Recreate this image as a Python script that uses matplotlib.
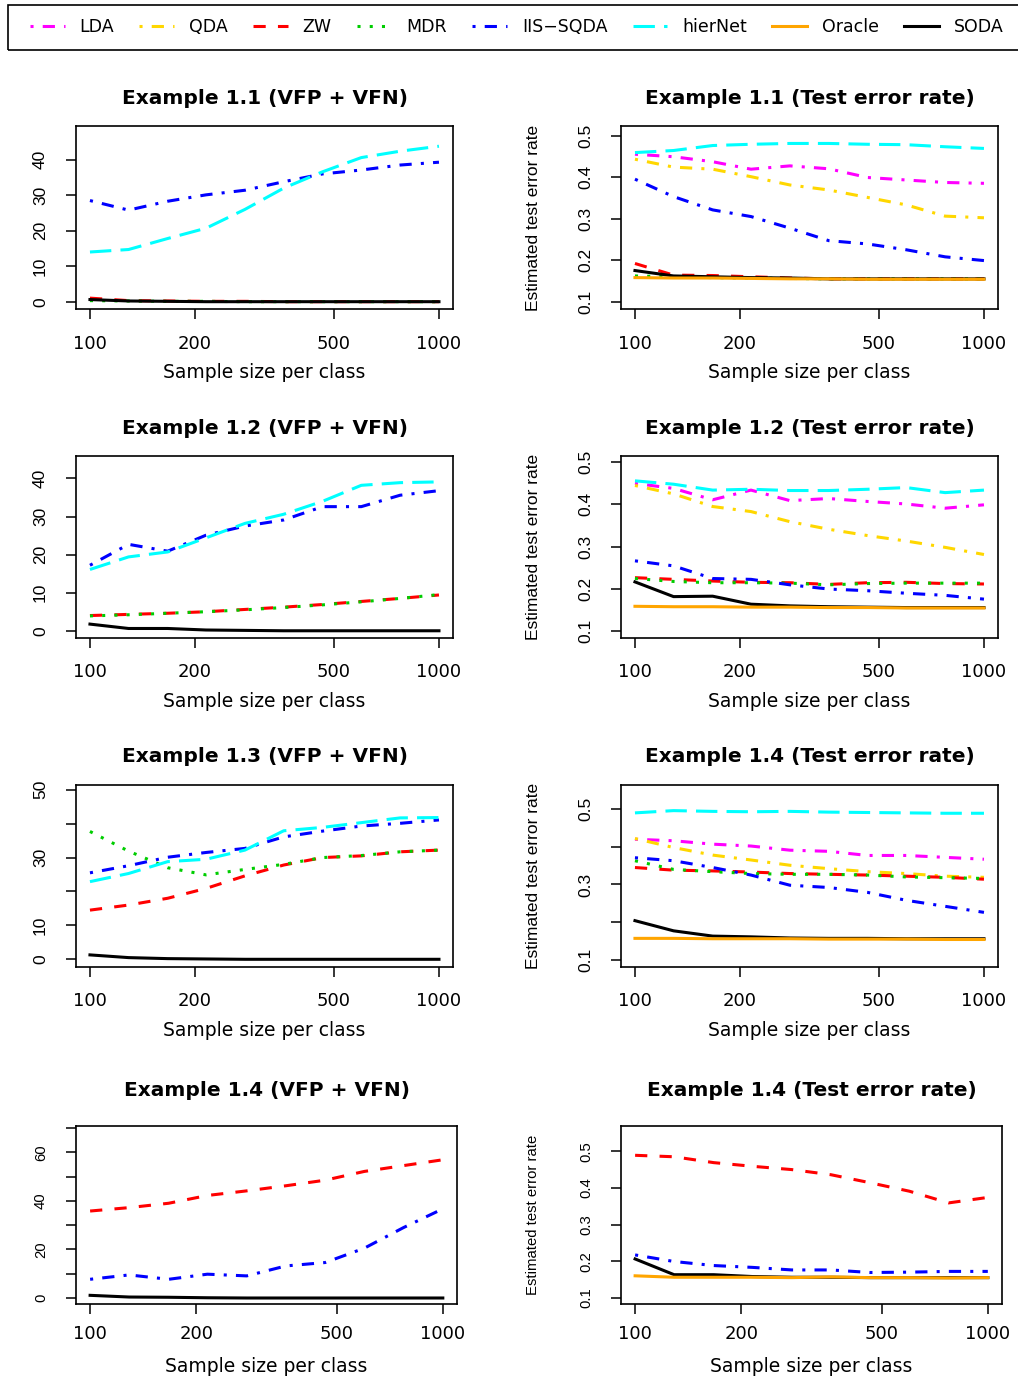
import matplotlib
matplotlib.use("Agg")
import matplotlib.pyplot as plt
from matplotlib.ticker import FixedLocator, FixedFormatter, NullLocator
from matplotlib.patches import Rectangle

W, H = 1018, 1376

# sample size per class (x values, log spaced)
n = [100, 129, 167, 215, 278, 359, 464, 599, 774, 1000]
xticks = [100, 200, 500, 1000]

methods = ["LDA", "QDA", "ZW", "MDR", "IIS\u2212SQDA", "hierNet", "Oracle", "SODA"]
colors = ["#FF00FF", "#FFD700", "#FF0000", "#00CD00", "#0000FF", "#00FFFF", "#FFA500", "#000000"]
dashes = [(1, 3, 4, 3), (1, 3, 4, 3), (4, 4), (1, 3), (1, 3, 4, 3), (7, 3), None, None]

# Example 1.1, VFP + VFN
ex11_vf_zw = [1.0, 0.3, 0.2, 0.1, 0.1, 0.0, 0.0, 0.0, 0.0, 0.0]
ex11_vf_mdr = [0.3, 0.2, 0.1, 0.1, 0.0, 0.0, 0.0, 0.0, 0.0, 0.0]
ex11_vf_iis = [28.5, 25.8, 28.3, 30.1, 31.4, 33.8, 36.0, 37.1, 38.5, 39.3]
ex11_vf_hier = [14.0, 14.7, 17.8, 20.7, 26.0, 32.0, 36.6, 40.6, 42.4, 43.8]
ex11_vf_soda = [0.6, 0.2, 0.1, 0.0, 0.0, 0.0, 0.0, 0.0, 0.0, 0.0]

# Example 1.1, test error
ex11_te_lda = [0.455, 0.449, 0.437, 0.419, 0.427, 0.420, 0.399, 0.393, 0.387, 0.385]
ex11_te_qda = [0.443, 0.424, 0.419, 0.401, 0.381, 0.369, 0.351, 0.333, 0.306, 0.302]
ex11_te_zw = [0.192, 0.164, 0.163, 0.160, 0.157, 0.155, 0.155, 0.155, 0.155, 0.155]
ex11_te_mdr = [0.162, 0.160, 0.158, 0.157, 0.156, 0.155, 0.155, 0.155, 0.155, 0.155]
ex11_te_iis = [0.395, 0.353, 0.321, 0.305, 0.277, 0.247, 0.239, 0.225, 0.208, 0.199]
ex11_te_hier = [0.459, 0.464, 0.476, 0.479, 0.481, 0.481, 0.479, 0.478, 0.473, 0.469]
ex11_te_oracle = [0.158, 0.157, 0.157, 0.156, 0.155, 0.155, 0.154, 0.154, 0.154, 0.154]
ex11_te_soda = [0.175, 0.162, 0.160, 0.158, 0.157, 0.155, 0.155, 0.155, 0.155, 0.155]

# Example 1.2, VFP + VFN
ex12_vf_zw = [4.0, 4.3, 4.6, 5.0, 5.6, 6.2, 6.9, 7.7, 8.5, 9.4]
ex12_vf_mdr = [3.9, 4.2, 4.6, 5.0, 5.5, 6.1, 6.8, 7.6, 8.5, 9.5]
ex12_vf_iis = [17.2, 22.7, 20.9, 25.1, 27.5, 29.1, 32.6, 32.6, 35.6, 36.8]
ex12_vf_hier = [16.1, 19.4, 20.7, 24.4, 28.2, 30.6, 34.0, 38.2, 38.9, 39.1]
ex12_vf_soda = [1.75, 0.6, 0.6, 0.2, 0.1, 0.0, 0.0, 0.0, 0.0, 0.0]

# Example 1.2, test error
ex12_te_lda = [0.450, 0.438, 0.411, 0.434, 0.409, 0.414, 0.407, 0.401, 0.391, 0.399]
ex12_te_qda = [0.445, 0.425, 0.395, 0.383, 0.359, 0.341, 0.326, 0.313, 0.298, 0.281]
ex12_te_zw = [0.226, 0.222, 0.218, 0.215, 0.214, 0.210, 0.214, 0.215, 0.212, 0.211]
ex12_te_mdr = [0.224, 0.217, 0.214, 0.214, 0.213, 0.209, 0.212, 0.213, 0.213, 0.213]
ex12_te_iis = [0.266, 0.254, 0.224, 0.222, 0.209, 0.199, 0.195, 0.189, 0.184, 0.175]
ex12_te_hier = [0.456, 0.448, 0.434, 0.436, 0.433, 0.433, 0.436, 0.440, 0.428, 0.434]
ex12_te_oracle = [0.158, 0.157, 0.157, 0.156, 0.156, 0.155, 0.155, 0.154, 0.154, 0.154]
ex12_te_soda = [0.216, 0.181, 0.182, 0.163, 0.159, 0.157, 0.156, 0.155, 0.155, 0.155]

# Example 1.3, VFP + VFN
ex13_vf_zw = [14.5, 16.0, 18.0, 20.9, 24.6, 27.8, 30.0, 30.5, 31.7, 32.2]
ex13_vf_mdr = [37.7, 31.9, 27.0, 24.9, 26.5, 28.0, 30.0, 30.6, 31.7, 32.2]
ex13_vf_iis = [25.5, 27.6, 30.1, 31.5, 32.7, 36.1, 37.8, 39.3, 40.1, 41.1]
ex13_vf_hier = [22.9, 25.3, 28.8, 29.5, 32.2, 37.9, 38.9, 40.3, 41.7, 41.8]
ex13_vf_soda = [1.3, 0.5, 0.2, 0.1, 0.0, 0.0, 0.0, 0.0, 0.0, 0.0]

# Example 1.4, test error (row 3)
ex14_te_lda = [0.420, 0.416, 0.407, 0.402, 0.391, 0.388, 0.377, 0.377, 0.372, 0.367]
ex14_te_qda = [0.422, 0.398, 0.378, 0.365, 0.351, 0.342, 0.334, 0.329, 0.322, 0.319]
ex14_te_zw = [0.345, 0.338, 0.336, 0.333, 0.329, 0.327, 0.325, 0.322, 0.319, 0.314]
ex14_te_mdr = [0.363, 0.340, 0.334, 0.329, 0.327, 0.327, 0.325, 0.320, 0.318, 0.316]
ex14_te_iis = [0.371, 0.363, 0.345, 0.325, 0.298, 0.292, 0.279, 0.258, 0.242, 0.226]
ex14_te_hier = [0.490, 0.496, 0.494, 0.493, 0.494, 0.492, 0.491, 0.490, 0.489, 0.489]
ex14_te_oracle = [0.157, 0.157, 0.156, 0.156, 0.156, 0.155, 0.155, 0.155, 0.154, 0.154]
ex14_te_soda = [0.204, 0.177, 0.163, 0.161, 0.158, 0.157, 0.157, 0.156, 0.156, 0.156]

# Example 1.4 (row 4), VFP + VFN
ex14b_vf_zw = [35.8, 37.2, 39.0, 42.2, 44.1, 46.2, 48.5, 52.1, 54.5, 56.9]
ex14b_vf_iis = [7.7, 9.5, 7.7, 9.8, 9.1, 13.2, 14.6, 20.5, 29.0, 36.7]
ex14b_vf_soda = [1.1, 0.4, 0.3, 0.1, 0.0, 0.0, 0.0, 0.0, 0.0, 0.0]

# Example 1.4 (row 4), test error
ex14b_te_zw = [0.489, 0.485, 0.469, 0.459, 0.450, 0.436, 0.414, 0.391, 0.359, 0.374]
ex14b_te_iis = [0.217, 0.199, 0.188, 0.183, 0.176, 0.176, 0.169, 0.170, 0.172, 0.172]
ex14b_te_oracle = [0.160, 0.156, 0.156, 0.156, 0.155, 0.157, 0.155, 0.155, 0.154, 0.155]
ex14b_te_soda = [0.206, 0.163, 0.163, 0.158, 0.156, 0.156, 0.155, 0.155, 0.155, 0.155]

err_ticks = [0.1, 0.2, 0.3, 0.4, 0.5]
err_labels = ["0.1", "0.2", "0.3", "0.4", "0.5"]

# rect = (left, top, right, bottom) in pixels; title_y, tick_y, xlab_y as pixel rows
panels = [
    dict(rect=(76, 126, 453, 309), title="Example 1.1 (VFP + VFN)",
         series={"ZW": ex11_vf_zw, "MDR": ex11_vf_mdr, "IIS\u2212SQDA": ex11_vf_iis,
                 "hierNet": ex11_vf_hier, "SODA": ex11_vf_soda},
         ylim=(-2.06, 49.5), yticks=[0, 10, 20, 30, 40], ylabels=["0", "10", "20", "30", "40"],
         ylab=None, title_y=99, tick_y=342, xlab_y=372, small=False),
    dict(rect=(621, 126, 998, 309), title="Example 1.1 (Test error rate)",
         series={"LDA": ex11_te_lda, "QDA": ex11_te_qda, "ZW": ex11_te_zw, "MDR": ex11_te_mdr,
                 "IIS\u2212SQDA": ex11_te_iis, "hierNet": ex11_te_hier,
                 "SODA": ex11_te_soda, "Oracle": ex11_te_oracle},
         ylim=(0.0824, 0.523), yticks=err_ticks, ylabels=err_labels,
         ylab="Estimated test error rate", title_y=99, tick_y=342, xlab_y=372, small=False),
    dict(rect=(76, 456, 453, 638), title="Example 1.2 (VFP + VFN)",
         series={"ZW": ex12_vf_zw, "MDR": ex12_vf_mdr, "IIS\u2212SQDA": ex12_vf_iis,
                 "hierNet": ex12_vf_hier, "SODA": ex12_vf_soda},
         ylim=(-1.9, 45.9), yticks=[0, 10, 20, 30, 40], ylabels=["0", "10", "20", "30", "40"],
         ylab=None, title_y=428, tick_y=670, xlab_y=701, small=False),
    dict(rect=(621, 456, 998, 638), title="Example 1.2 (Test error rate)",
         series={"LDA": ex12_te_lda, "QDA": ex12_te_qda, "ZW": ex12_te_zw, "MDR": ex12_te_mdr,
                 "IIS\u2212SQDA": ex12_te_iis, "hierNet": ex12_te_hier,
                 "SODA": ex12_te_soda, "Oracle": ex12_te_oracle},
         ylim=(0.0827, 0.515), yticks=err_ticks, ylabels=err_labels,
         ylab="Estimated test error rate", title_y=428, tick_y=670, xlab_y=701, small=False),
    dict(rect=(76, 785, 453, 967), title="Example 1.3 (VFP + VFN)",
         series={"ZW": ex13_vf_zw, "MDR": ex13_vf_mdr, "IIS\u2212SQDA": ex13_vf_iis,
                 "hierNet": ex13_vf_hier, "SODA": ex13_vf_soda},
         ylim=(-2.27, 51.4), yticks=[0, 10, 20, 30, 40, 50], ylabels=["0", "10", "", "30", "", "50"],
         ylab=None, title_y=757, tick_y=999, xlab_y=1030, small=False),
    dict(rect=(621, 785, 998, 967), title="Example 1.4 (Test error rate)",
         series={"LDA": ex14_te_lda, "QDA": ex14_te_qda, "ZW": ex14_te_zw, "MDR": ex14_te_mdr,
                 "IIS\u2212SQDA": ex14_te_iis, "hierNet": ex14_te_hier,
                 "SODA": ex14_te_soda, "Oracle": ex14_te_oracle},
         ylim=(0.081, 0.564), yticks=err_ticks, ylabels=["0.1", "", "0.3", "", "0.5"],
         ylab="Estimated test error rate", title_y=757, tick_y=999, xlab_y=1030, small=False),
    dict(rect=(76, 1126, 457, 1304), title="Example 1.4 (VFP + VFN)",
         series={"ZW": ex14b_vf_zw, "IIS\u2212SQDA": ex14b_vf_iis, "SODA": ex14b_vf_soda},
         ylim=(-2.47, 70.8), yticks=[0, 10, 20, 30, 40, 50, 60, 70],
         ylabels=["0", "", "20", "", "40", "", "60", ""],
         ylab=None, title_y=1090, tick_y=1332, xlab_y=1366, small=True),
    dict(rect=(621, 1126, 1002, 1304), title="Example 1.4 (Test error rate)",
         series={"ZW": ex14b_te_zw, "IIS\u2212SQDA": ex14b_te_iis,
                 "SODA": ex14b_te_soda, "Oracle": ex14b_te_oracle},
         ylim=(0.083, 0.569), yticks=err_ticks, ylabels=err_labels,
         ylab="Estimated test error rate", title_y=1090, tick_y=1332, xlab_y=1366, small=True),
]


def main():
    fig = plt.figure(figsize=(W / 100, H / 100), dpi=100)
    handles = {}

    for p in panels:
        l, t, r, b = p["rect"]
        wpx, hpx = r - l, b - t
        ax = fig.add_axes([l / W, 1 - b / H, wpx / W, hpx / H])
        ax.set_xscale("log")

        for name, vals in p["series"].items():
            i = methods.index(name)
            line, = ax.plot(n, vals, color=colors[i], lw=2.2, label=name)
            if dashes[i] is not None:
                line.set_dashes(dashes[i])
            handles.setdefault(name, line)

        ax.set_xlim(91.2, 1097)
        ax.set_ylim(*p["ylim"])
        ax.xaxis.set_major_locator(FixedLocator(xticks))
        ax.xaxis.set_major_formatter(FixedFormatter([str(v) for v in xticks]))
        ax.xaxis.set_minor_locator(NullLocator())
        ax.yaxis.set_minor_locator(NullLocator())

        rot_size = 10.7 if p["small"] else 12.5
        ax.set_yticks(p["yticks"])
        ax.set_yticklabels(p["ylabels"], fontfamily="Liberation Sans", fontsize=rot_size,
                           rotation=90, va="center")
        for lab in ax.get_xticklabels():
            lab.set_fontfamily("DejaVu Sans")
            lab.set_fontsize(13)

        for s in ax.spines.values():
            s.set_linewidth(1.2)
        ax.tick_params(direction="out", length=7.2, width=1.1)
        ax.tick_params(axis="y", pad=13)
        # x tick labels: pad from tick end to label top
        ax.tick_params(axis="x", pad=(p["tick_y"] - 7 - (b + 10)) * 0.72)

        ax.set_title(p["title"], fontfamily="DejaVu Sans", fontweight="bold", fontsize=14.5,
                     y=1 + (t - p["title_y"]) / hpx, va="center", pad=0)
        ax.set_xlabel("Sample size per class", fontfamily="DejaVu Sans", fontsize=13.5)
        ax.xaxis.set_label_coords(0.5, -(p["xlab_y"] - b) / hpx)
        ax.xaxis.label.set_va("center")
        if p["ylab"]:
            ax.set_ylabel(p["ylab"], fontfamily="Liberation Sans", fontsize=rot_size)
            ax.yaxis.set_label_coords(-(l - 533) / wpx, 0.5)
            ax.yaxis.label.set_va("center")

    # legend across the top, frame runs past the right edge
    fig.add_artist(Rectangle((8 / W, 1 - 50 / H), 1030 / W, 45 / H, transform=fig.transFigure,
                             fill=False, lw=1.2, edgecolor="black"))
    fig.legend([handles[m] for m in methods], methods, loc="center left",
               bbox_to_anchor=(30 / W, 1 - 27.5 / H), ncol=8, frameon=False,
               prop={"family": "DejaVu Sans", "size": 12.5}, handlelength=2.0,
               handletextpad=0.86, columnspacing=1.45, borderpad=0, borderaxespad=0)

    fig.savefig("out.png", dpi=100)


if __name__ == "__main__":
    main()
